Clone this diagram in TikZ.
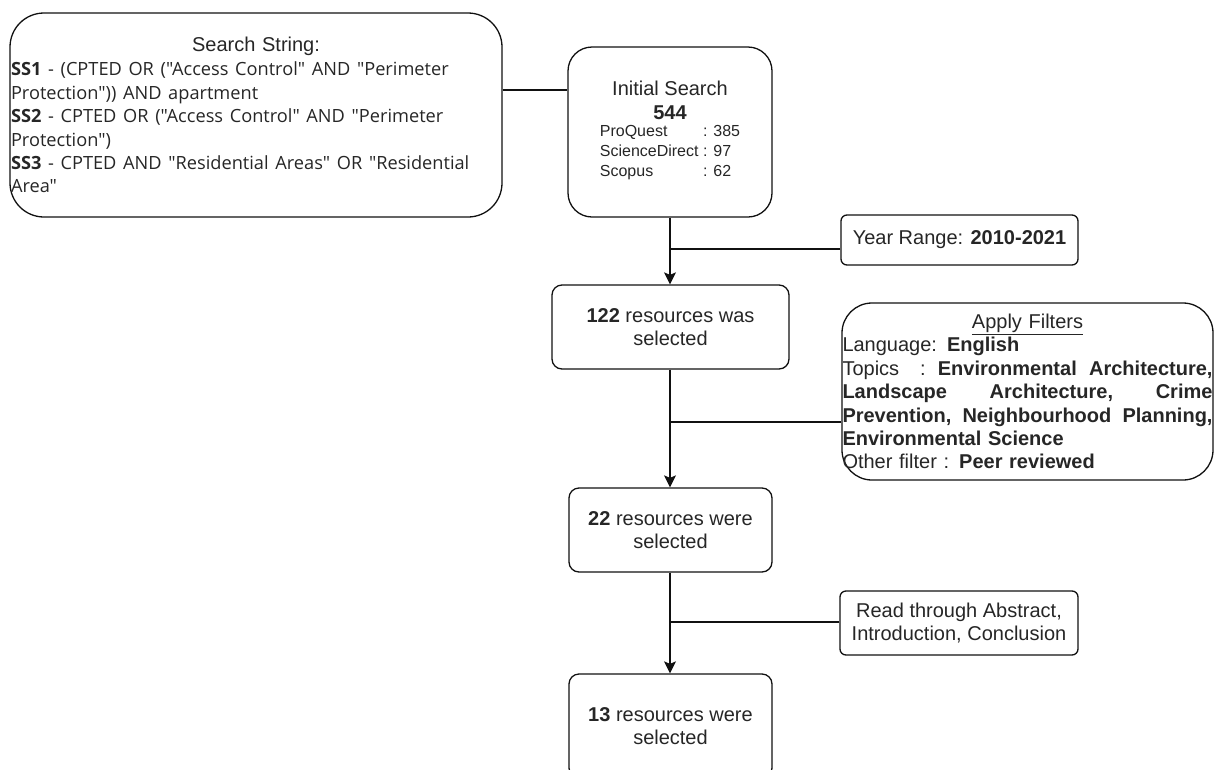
\documentclass[tikz,border=0pt]{standalone}
\usepackage{fontspec}
\setmainfont{Liberation Sans}
\newfontfamily\ssfont{Open Sans}
\usetikzlibrary{arrows.meta}
\definecolor{txt}{HTML}{262626}
\definecolor{ln}{HTML}{111111}
\newcommand\jsp{\hspace{5.5pt plus 1fil}}
\newcommand\jline[1]{\leavevmode\hbox to 370pt{#1}}
\begin{document}
\begin{tikzpicture}[x=1pt,y=-1pt,
  box/.style={draw=ln, line width=1.3pt, rounded corners=#1, inner sep=0pt, text=txt,
    font=\fontsize{20}{23.4}\selectfont},
  conn/.style={draw=ln, line width=1.3pt},
  arr/.style={conn, -{Stealth[length=12pt,width=12pt,inset=2.5pt]}}]
\useasboundingbox (0,0) rectangle (1219,769);

% Search string box
\node[box=34pt, minimum width=492pt, minimum height=204pt, text width=490pt, align=left] (search) at (256,115) {%
\makebox[490pt]{Search String:}\\[1pt]
{\ssfont\fontsize{18.2}{23.4}\selectfont
\textbf{SS1} - (CPTED OR ("Access Control" AND "Perimeter\\
Protection")) AND apartment\\
\textbf{SS2} - CPTED OR ("Access Control" AND "Perimeter\\
Protection")\\
\textbf{SS3} - CPTED AND "Residential Areas" OR "Residential\\
Area"}};

% Initial search
\node[box=24pt, minimum width=204pt, minimum height=170pt, align=center] (initial) at (670,132) {%
Initial Search\\
\textbf{544}\\[2pt]
{\fontsize{16}{20}\selectfont\begin{tabular}{@{}l@{\ }l@{}}ProQuest&: 385\\ScienceDirect&: 97\\Scopus&: 62\end{tabular}}};

% Year range
\node[box=6pt, minimum width=237pt, minimum height=50pt] (year) at (959.5,240) {Year Range: \textbf{2010-2021}};

% 122
\node[box=10pt, minimum width=237pt, minimum height=84pt, align=center] (r122) at (670.5,327) {\textbf{122} resources was\\selected};

% Apply filters
\node[box=30pt, minimum width=371pt, minimum height=177pt, text width=370pt, align=left] (filters) at (1027.5,391.5) {%
\makebox[370pt]{\underline{Apply Filters}}\\
Language: \textbf{English}\\
\jline{Topics\hspace{14pt plus 1fil}:\jsp\textbf{Environmental\jsp Architecture,}}\\
\jline{\textbf{Landscape\jsp Architecture,\jsp Crime}}\\
\jline{\textbf{Prevention,\jsp Neighbourhood\jsp Planning,}}\\
\textbf{Environmental Science}\\
Other filter : \textbf{Peer reviewed}};

% 22
\node[box=10pt, minimum width=203pt, minimum height=84pt, align=center] (r22) at (670.5,530) {\textbf{22} resources were\\selected};

% Read through
\node[box=6pt, minimum width=238pt, minimum height=64pt, align=center] (read) at (959,623) {Read through Abstract,\\Introduction, Conclusion};

% 13 (cut off by the lower edge of the picture)
\node[box=10pt, minimum width=203pt, minimum height=104pt, align=center] (r13) at (670.5,726) {\textbf{13} resources were\\selected};

% junction coordinates
\coordinate (j1) at (670,249);
\coordinate (j2) at (670,422);
\coordinate (j3) at (670,622);

% connectors
\draw[conn] (search.east |- 0,90) -- (initial.west |- 0,90);
\draw[arr] (initial.south -| j1) -- (r122.north -| j1);
\draw[conn] (year.west |- j1) -- (j1);
\draw[arr] (r122.south -| j2) -- (r22.north -| j2);
\draw[conn] (filters.west |- j2) -- (j2);
\draw[arr] (r22.south -| j3) -- (r13.north -| j3);
\draw[conn] (read.west |- j3) -- (j3);
\end{tikzpicture}
\end{document}
